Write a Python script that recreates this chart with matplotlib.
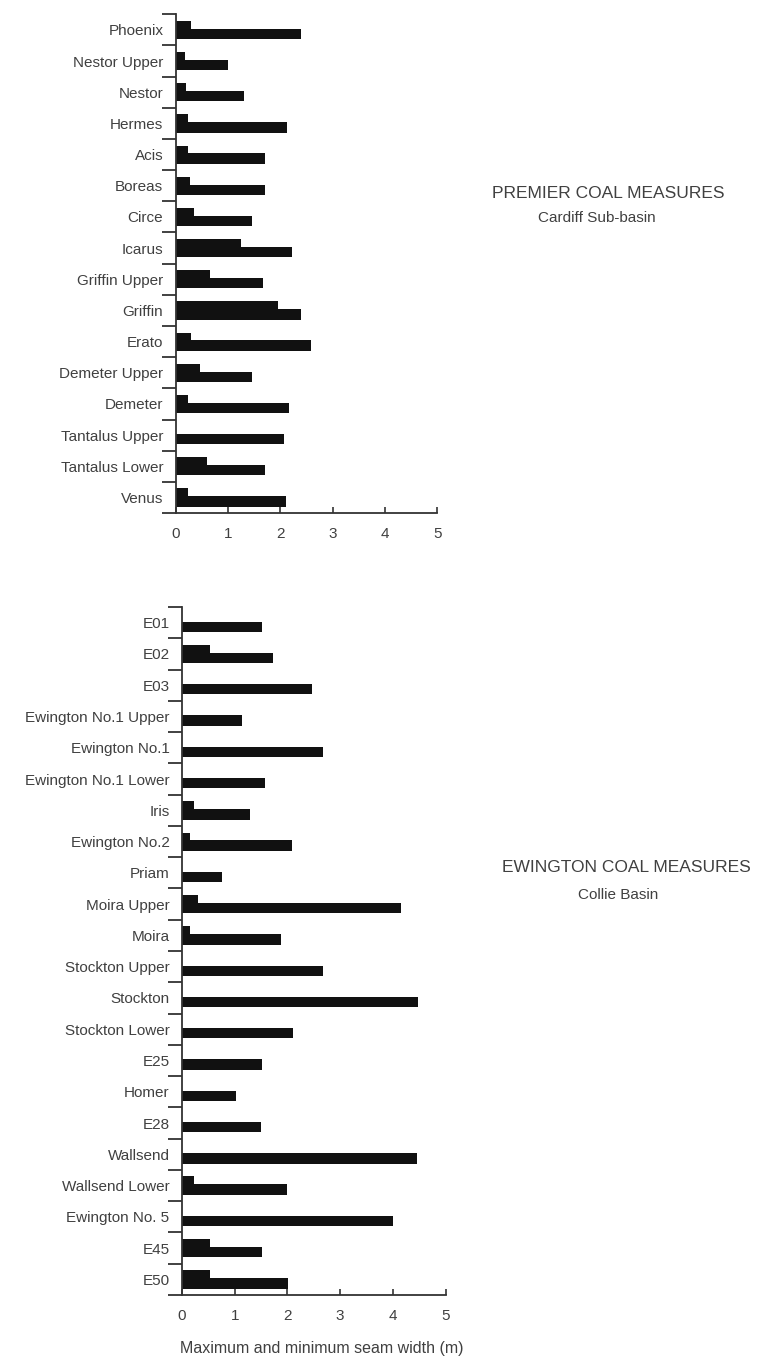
import matplotlib.pyplot as plt
import numpy as np

plt.rcParams["font.family"] = ["Liberation Sans", "DejaVu Sans"]

# Premier Coal Measures, Cardiff Sub-basin (top to bottom)
premier_seams = ["Phoenix", "Nestor Upper", "Nestor", "Hermes", "Acis", "Boreas",
                 "Circe", "Icarus", "Griffin Upper", "Griffin", "Erato",
                 "Demeter Upper", "Demeter", "Tantalus Upper", "Tantalus Lower", "Venus"]
premier_min = [0.29, 0.18, 0.2, 0.24, 0.24, 0.28, 0.35, 1.25, 0.66, 1.95, 0.29,
               0.47, 0.23, 0.0, 0.6, 0.23]
premier_max = [2.4, 0.99, 1.31, 2.12, 1.71, 1.71, 1.45, 2.22, 1.66, 2.39, 2.58,
               1.46, 2.17, 2.07, 1.7, 2.11]

# Ewington Coal Measures, Collie Basin (top to bottom)
ewington_seams = ["E01", "E02", "E03", "Ewington No.1 Upper", "Ewington No.1",
                  "Ewington No.1 Lower", "Iris", "Ewington No.2", "Priam",
                  "Moira Upper", "Moira", "Stockton Upper", "Stockton",
                  "Stockton Lower", "E25", "Homer", "E28", "Wallsend",
                  "Wallsend Lower", "Ewington No. 5", "E45", "E50"]
ewington_min = [0.0, 0.54, 0.0, 0.0, 0.0, 0.0, 0.22, 0.16, 0.0, 0.3, 0.15, 0.0,
                0.0, 0.0, 0.0, 0.0, 0.0, 0.0, 0.22, 0.0, 0.53, 0.54]
ewington_max = [1.52, 1.73, 2.47, 1.13, 2.67, 1.57, 1.29, 2.09, 0.75, 4.16, 1.87,
                2.67, 4.48, 2.1, 1.52, 1.03, 1.5, 4.46, 2.0, 4.0, 1.52, 2.02]

x_ticks = [0, 1, 2, 3, 4, 5]
text_color = "#404040"
bar_color = "#111111"


def draw_panel(ax, seams, mins, maxs):
    n = len(seams)
    y = np.arange(n)
    # thick bar = minimum width, thin lower bar = maximum width
    ax.barh(y, mins, height=0.58, color=bar_color, align="center")
    ax.barh(y + 0.13, maxs, height=0.33, color=bar_color, align="center")
    ax.set_ylim(n - 0.5, -0.5)
    ax.set_xlim(0, 5)
    ax.set_yticks(y)
    ax.set_yticklabels(seams, fontsize=11, color=text_color)
    ax.tick_params(axis="y", which="major", length=0, pad=9)
    ax.set_yticks(np.arange(n + 1) - 0.5, minor=True)
    ax.tick_params(axis="y", which="minor", length=10, width=1.3,
                   color="#333333", direction="out")
    ax.set_xticks(x_ticks)
    ax.set_xticklabels([str(t) for t in x_ticks], fontsize=11, color=text_color)
    ax.tick_params(axis="x", direction="in", length=4, width=1.2, pad=10,
                   color="#333333")
    for side in ["top", "right"]:
        ax.spines[side].set_visible(False)
    for side in ["left", "bottom"]:
        ax.spines[side].set_linewidth(1.3)
        ax.spines[side].set_color("#333333")


fig = plt.figure(figsize=(7.71, 13.59), dpi=100)

ax1 = fig.add_axes([0.228, 0.6225, 0.339, 0.367])
draw_panel(ax1, premier_seams, premier_min, premier_max)

ax2 = fig.add_axes([0.236, 0.0471, 0.342, 0.5062])
draw_panel(ax2, ewington_seams, ewington_min, ewington_max)

fig.text(608 / 771, 1 - 193 / 1359, "PREMIER COAL MEASURES", ha="center",
         va="center", fontsize=12.5, color=text_color)
fig.text(597 / 771, 1 - 218 / 1359, "Cardiff Sub-basin", ha="center",
         va="center", fontsize=11, color=text_color)
fig.text(626 / 771, 1 - 868 / 1359, "EWINGTON COAL MEASURES", ha="center",
         va="center", fontsize=12.5, color=text_color)
fig.text(618 / 771, 1 - 895 / 1359, "Collie Basin", ha="center",
         va="center", fontsize=11, color=text_color)
fig.text(322 / 771, 1 - 1348 / 1359, "Maximum and minimum seam width (m)",
         ha="center", va="center", fontsize=11.5, color=text_color)

fig.savefig("out.png", dpi=100)
